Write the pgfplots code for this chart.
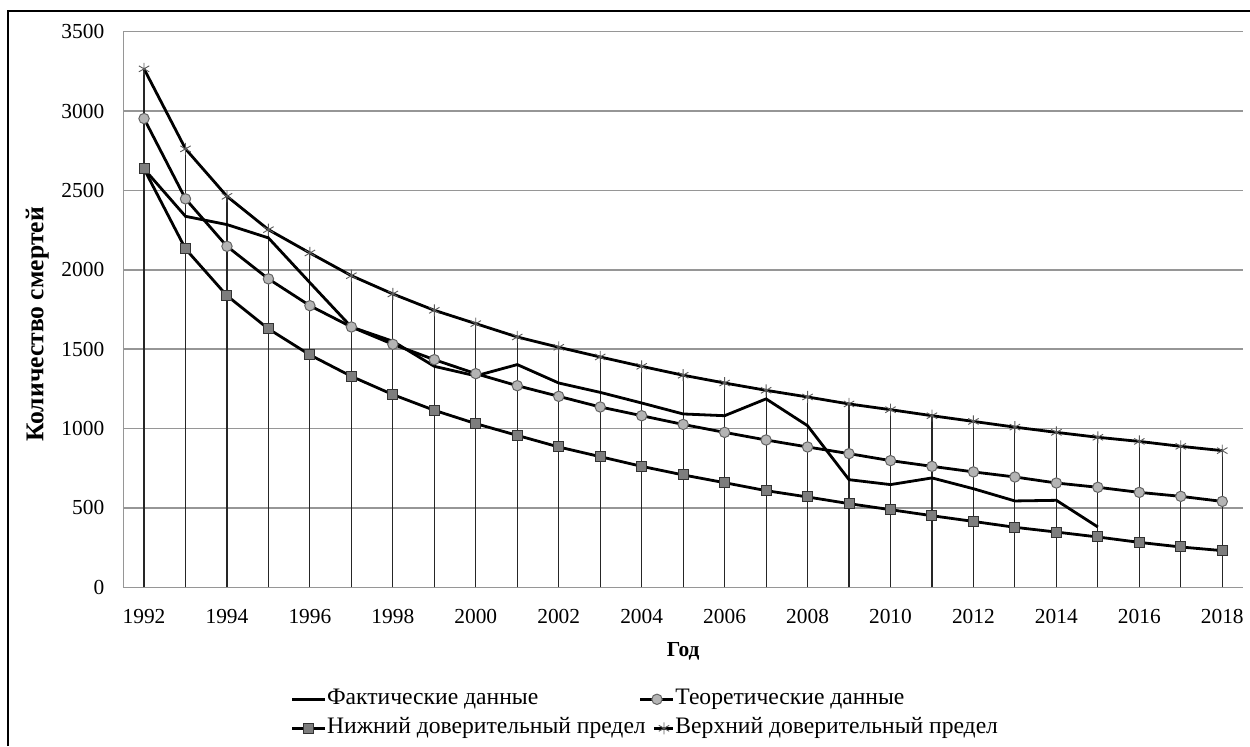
\documentclass[border=0pt]{standalone}
\usepackage{fontspec}
\setmainfont{Liberation Serif}
\usepackage{pgfplots}
\pgfplotsset{compat=1.18}
\usepackage{pgfplotstable}

\pgfplotstableread{
year value
1992 2636
1993 2337
1994 2285
1995 2201
1996 1919
1997 1640
1998 1550
1999 1392
2000 1332
2001 1403
2002 1287
2003 1228
2004 1161
2005 1092
2006 1081
2007 1187
2008 1018
2009 678
2010 647
2011 689
2012 621
2013 544
2014 548
2015 380
}\actual

\pgfplotstableread{
year theory lower upper
1992 2953 2636 3266
1993 2447 2132 2762
1994 2148 1837 2463
1995 1943 1628 2253
1996 1774 1464 2106
1997 1640 1329 1963
1998 1531 1214 1848
1999 1434 1115 1745
2000 1346 1031 1661
2001 1270 957 1577
2002 1203 884 1512
2003 1136 823 1451
2004 1081 762 1392
2005 1026 708 1336
2006 976 659 1287
2007 928 609 1241
2008 884 569 1199
2009 842 527 1155
2010 798 489 1119
2011 762 451 1081
2012 727 415 1045
2013 695 378 1009
2014 657 348 976
2015 630 317 945
2016 598 283 919
2017 573 254 888
2018 541 231 861
}\model

\definecolor{gridgray}{RGB}{150,150,150}
\definecolor{circfill}{RGB}{180,180,180}
\definecolor{circedge}{RGB}{100,100,100}
\definecolor{sqfill}{RGB}{125,125,125}
\definecolor{sqedge}{RGB}{50,50,50}
\definecolor{starc}{RGB}{90,90,90}

\newcommand{\fs}{\fontsize{10.7}{12.8}\selectfont}
\newcommand{\fl}{\fontsize{11.8}{13.5}\selectfont}

\pgfplotsset{
  fullleg/.style={legend image code/.code={\draw[mark repeat=2, mark phase=2, ##1]
    plot coordinates {(0pt,0pt) (8.25pt,0pt) (16.5pt,0pt)};}},
  shortleg/.style={legend image code/.code={\draw[mark repeat=2, mark phase=2, ##1]
    plot coordinates {(7pt,0pt) (11.75pt,0pt) (16.5pt,0pt)};}},
}

\begin{document}
\begin{tikzpicture}
\begin{axis}[
  scale only axis,
  width=559.85pt, height=277.8pt,
  xmin=1991.5, xmax=2018.5,
  ymin=0, ymax=3500,
  xtick={1992,1994,...,2018},
  ytick={0,500,...,3500},
  xticklabel style={/pgf/number format/1000 sep={}, yshift=-7.5pt},
  yticklabel style={xshift=-6pt},
  /pgf/number format/assume math mode=true,
  /pgf/number format/1000 sep={},
  tick label style={font=\fs},
  major tick length=0pt,
  axis x line=bottom, axis y line=left,
  axis line style={-, gridgray, line width=0.75pt},
  ymajorgrids,
  grid style={gridgray, line width=0.75pt},
  xlabel={Год},
  ylabel={Количество смертей},
  xlabel style={font=\fs\bfseries, at={(rel axis cs:0.5,0)}, anchor=center, yshift=-32pt},
  ylabel style={font=\fontsize{12.8}{14}\selectfont\bfseries, at={(rel axis cs:0,0.5)}, anchor=center, yshift=43pt, xshift=-7.5pt},
  legend columns=2,
  legend cell align=left,
  legend style={at={(rel axis cs:0,0)}, anchor=north west,
    xshift=83.5pt, yshift=-50.5pt, draw=none, fill=none,
    inner sep=0pt, column sep=0pt, row sep=3.9pt,
    font=\fl,
    nodes={inner sep=0.3pt, text height=7.5pt, text depth=2.5pt}},
  fullleg,
  clip=false,
]
\addplot[ycomb, black!85, line width=0.55pt, mark=none, forget plot] table[x=year, y=upper] {\model};
\addplot[black, line width=1.4pt, mark=none] table[x=year, y=value] {\actual};
\addlegendentry{\makebox[155.7pt][l]{Фактические данные}}
\addplot[black, line width=1.4pt, mark=*, mark size=2.6pt,
  mark options={fill=circfill, draw=circedge, line width=0.5pt}] table[x=year, y=theory] {\model};
\addlegendentry{Теоретические данные}
\addplot[black, line width=1.4pt, mark=square*, mark size=2.5pt,
  mark options={fill=sqfill, draw=sqedge, line width=0.5pt}] table[x=year, y=lower] {\model};
\addlegendentry{\makebox[155.7pt][l]{Нижний доверительный предел}}
\addplot[black, line width=1.4pt, mark=asterisk, mark size=3pt,
  mark options={draw=starc, line width=0.45pt}, shortleg] table[x=year, y=upper] {\model};
\addlegendentry{Верхний доверительный предел}
\end{axis}
\draw[black, line width=0.6pt] (-57.65pt,-79.35pt) -- (-57.65pt,288.15pt) -- (563.35pt,288.15pt);
\pgfresetboundingbox
\path[use as bounding box] (-61.65pt,-79.35pt) rectangle (563.35pt,293.65pt);
\end{tikzpicture}
\end{document}
